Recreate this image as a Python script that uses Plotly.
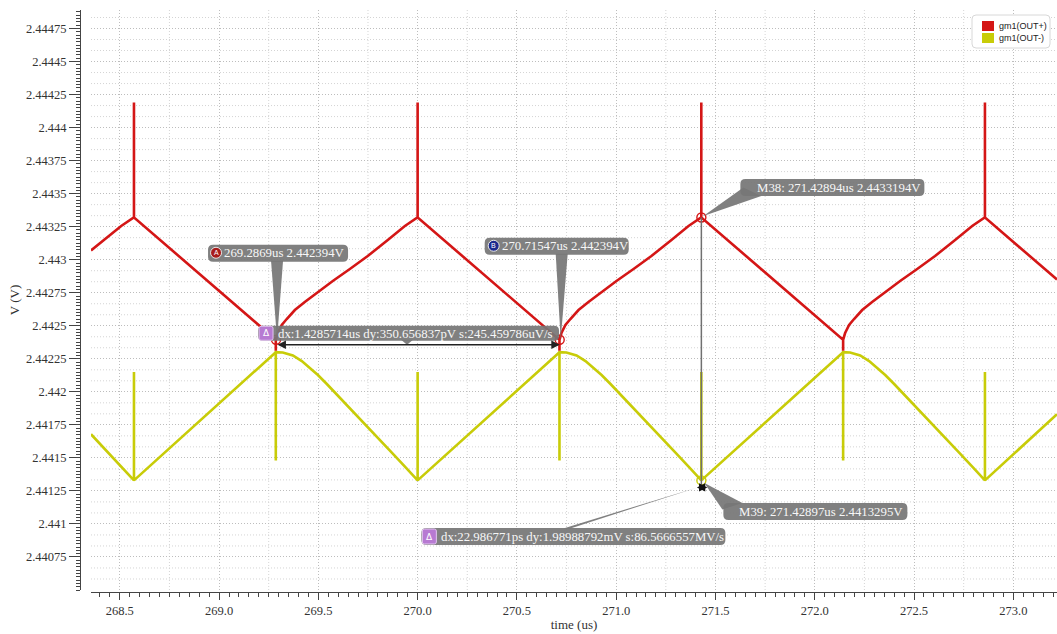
import plotly.graph_objects as go

# ---------------- waveform data (time in us, voltage in V) ----------------
out_p_time = [
    268.355, 268.4211, 268.5071,
    268.5714, 268.5714, 268.5714,
    269.2857, 269.2857, 269.2857,
    269.2957, 269.3157, 269.3407, 269.3817, 269.4317, 269.4977,
    269.5727, 269.6587, 269.7487, 269.8497, 269.9357,
    270.0000, 270.0000, 270.0000,
    270.7143, 270.7143, 270.7143,
    270.7243, 270.7443, 270.7693, 270.8103, 270.8603, 270.9263,
    271.0013, 271.0873, 271.1773, 271.2783, 271.3643,
    271.4286, 271.4286, 271.4286,
    272.1429, 272.1429, 272.1429,
    272.1529, 272.1729, 272.1979, 272.2389, 272.2889, 272.3549,
    272.4299, 272.5159, 272.6059, 272.7069, 272.7929,
    272.8571, 272.8571, 272.8571,
    273.22,
]
out_p_volt = [
    2.44307, 2.443149, 2.443255,
    2.44332, 2.44419, 2.44332,
    2.442394, 2.44231, 2.442394,
    2.442445, 2.442506, 2.442551, 2.442619, 2.442680, 2.442756,
    2.442839, 2.442930, 2.443028, 2.443149, 2.443255,
    2.44332, 2.44419, 2.44332,
    2.442394, 2.44231, 2.442394,
    2.442445, 2.442506, 2.442551, 2.442619, 2.442680, 2.442756,
    2.442839, 2.442930, 2.443028, 2.443149, 2.443255,
    2.44332, 2.44419, 2.44332,
    2.442394, 2.44231, 2.442394,
    2.442445, 2.442506, 2.442551, 2.442619, 2.442680, 2.442756,
    2.442839, 2.442930, 2.443028, 2.443149, 2.443255,
    2.44332, 2.44419, 2.44332,
    2.44285,
]

out_n_time = [
    268.355, 268.4461, 268.5121,
    268.5714, 268.5714, 268.5714,
    269.2857, 269.2857, 269.2857,
    269.3207, 269.3717, 269.4167, 269.4567, 269.4977, 269.5427,
    269.6227, 269.7087, 269.7897, 269.8747, 269.9407,
    270.0000, 270.0000, 270.0000,
    270.7143, 270.7143, 270.7143,
    270.7493, 270.8003, 270.8453, 270.8853, 270.9263, 270.9713,
    271.0513, 271.1373, 271.2183, 271.3033, 271.3693,
    271.4286, 271.4286, 271.4286,
    272.1429, 272.1429, 272.1429,
    272.1779, 272.2289, 272.2739, 272.3139, 272.3549, 272.3999,
    272.4799, 272.5659, 272.6469, 272.7319, 272.7979,
    272.8571, 272.8571, 272.8571,
    273.22,
]
out_n_volt = [
    2.441679, 2.441533, 2.441427,
    2.44133, 2.44215, 2.44133,
    2.44230, 2.44148, 2.44230,
    2.442298, 2.442275, 2.442233, 2.442184, 2.442127, 2.442059,
    2.441934, 2.441798, 2.441669, 2.441533, 2.441427,
    2.44133, 2.44215, 2.44133,
    2.44230, 2.44148, 2.44230,
    2.442298, 2.442275, 2.442233, 2.442184, 2.442127, 2.442059,
    2.441934, 2.441798, 2.441669, 2.441533, 2.441427,
    2.44133, 2.44215, 2.44133,
    2.44230, 2.44148, 2.44230,
    2.442298, 2.442275, 2.442233, 2.442184, 2.442127, 2.442059,
    2.441934, 2.441798, 2.441669, 2.441533, 2.441427,
    2.44133, 2.44215, 2.44133,
    2.44183,
]

series_names = ["gm1(OUT+)", "gm1(OUT-)"]

# ---------------- axis ticks ----------------
x_tick_vals = [268.5, 269.0, 269.5, 270.0, 270.5, 271.0, 271.5, 272.0, 272.5, 273.0]
x_tick_text = ["268.5", "269.0", "269.5", "270.0", "270.5", "271.0", "271.5", "272.0", "272.5", "273.0"]
y_tick_vals = [2.44075, 2.441, 2.44125, 2.4415, 2.44175, 2.442, 2.44225, 2.4425,
               2.44275, 2.443, 2.44325, 2.4435, 2.44375, 2.444, 2.44425, 2.4445, 2.44475]
y_tick_text = ["2.44075", "2.441", "2.44125", "2.4415", "2.44175", "2.442", "2.44225", "2.4425",
               "2.44275", "2.443", "2.44325", "2.4435", "2.44375", "2.444", "2.44425", "2.4445", "2.44475"]

# ---------------- cursors ----------------
cursor_a = (269.2869, 2.442394)
cursor_b = (270.71547, 2.442394)
marker_m38 = (271.42894, 2.4433194)
marker_m39 = (271.42897, 2.4413295)

label_a = "269.2869us 2.442394V"
label_b = "270.71547us 2.442394V"
label_ab = "dx:1.4285714us dy:350.656837pV s:245.459786uV/s"
label_m38 = "M38: 271.42894us 2.4433194V"
label_m39 = "M39: 271.42897us 2.4413295V"
label_m38_m39 = "dx:22.986771ps dy:1.98988792mV s:86.5666557MV/s"

RED = "#d41616"
YELLOW = "#c8cc08"
BOX_GRAY = "rgba(118,118,118,0.93)"
SERIF = "Liberation Serif"
LABEL_FONT = dict(family=SERIF, size=12.8, color="#f7f7f7")
GRID_DASH = "1px,2px"

X_RANGE = [268.355, 273.22]
Y_RANGE = [2.4405, 2.44489]

# plot area geometry (pixels) used to place callout graphics next to cursors
FIG_W, FIG_H = 1057, 634
M_L, M_R, M_T, M_B = 80, 0, 10, 42
PLOT_LEFT = 91
PLOT_TOP = 10
PLOT_W = FIG_W - M_R - PLOT_LEFT
PLOT_H = 580


def to_x(p):
    return X_RANGE[0] + (p - PLOT_LEFT) * (X_RANGE[1] - X_RANGE[0]) / PLOT_W


def to_y(p):
    return Y_RANGE[1] - (p - PLOT_TOP) * (Y_RANGE[1] - Y_RANGE[0]) / PLOT_H


def px_x(v):
    return PLOT_LEFT + (v - X_RANGE[0]) * PLOT_W / (X_RANGE[1] - X_RANGE[0])


def px_y(v):
    return PLOT_TOP + (Y_RANGE[1] - v) * PLOT_H / (Y_RANGE[1] - Y_RANGE[0])


def poly_path(points):
    pts = [f"{to_x(x)},{to_y(y)}" for x, y in points]
    return "M " + " L ".join(pts) + " Z"


def rounded_path(x0, y0, x1, y1, r):
    def p(x, y):
        return f"{to_x(x)},{to_y(y)}"
    return (f"M {p(x0 + r, y0)} L {p(x1 - r, y0)} Q {p(x1, y0)} {p(x1, y0 + r)} "
            f"L {p(x1, y1 - r)} Q {p(x1, y1)} {p(x1 - r, y1)} "
            f"L {p(x0 + r, y1)} Q {p(x0, y1)} {p(x0, y1 - r)} "
            f"L {p(x0, y0 + r)} Q {p(x0, y0)} {p(x0 + r, y0)} Z")


shapes = []
annotations = []


def add_box(cx, cy, x0, y0, x1, y1):
    shapes.append(dict(type="path", path=rounded_path(cx + x0, cy + y0, cx + x1, cy + y1, 5),
                       xref="x", yref="y", fillcolor=BOX_GRAY, line=dict(width=0), layer="above"))


def add_wedge(cx, cy, pts):
    shapes.append(dict(type="path", path=poly_path([(cx + a, cy + b) for a, b in pts]),
                       xref="x", yref="y", fillcolor=BOX_GRAY, line=dict(width=0), layer="above"))


def add_text(cx, cy, ox, oy, text):
    annotations.append(dict(x=to_x(cx + ox), y=to_y(cy + oy), xref="x", yref="y", text=text,
                            showarrow=False, xanchor="left", yanchor="middle", font=LABEL_FONT))


def add_round_badge(cx, cy, ox, oy, letter, fill):
    r = 5.5
    shapes.append(dict(type="circle", xref="x", yref="y",
                       x0=to_x(cx + ox - r), x1=to_x(cx + ox + r),
                       y0=to_y(cy + oy + r), y1=to_y(cy + oy - r),
                       fillcolor=fill, line=dict(color="#e8e8e8", width=1), layer="above"))
    annotations.append(dict(x=to_x(cx + ox), y=to_y(cy + oy), xref="x", yref="y", text=letter,
                            showarrow=False, xanchor="center", yanchor="middle",
                            font=dict(family="Liberation Sans", size=7, color="white")))


def add_delta_badge(cx, cy, x0, y0, x1, y1):
    shapes.append(dict(type="path", path=rounded_path(cx + x0, cy + y0, cx + x1, cy + y1, 2),
                       xref="x", yref="y", fillcolor="#b77ad2",
                       line=dict(color="#e3c6f0", width=1), layer="above"))
    annotations.append(dict(x=to_x(cx + (x0 + x1) / 2), y=to_y(cy + (y0 + y1) / 2), xref="x", yref="y",
                            text="Δ", showarrow=False, xanchor="center", yanchor="middle",
                            font=dict(family="DejaVu Sans", size=9, color="white")))


# minor dotted grid (between the major grid lines)
x_minor_grid = [268.75 + 0.5 * k for k in range(9)]
for gx in x_minor_grid:
    shapes.append(dict(type="line", xref="x", yref="paper", x0=gx, x1=gx, y0=0.0034, y1=1,
                       line=dict(color="#d4d4d4", width=1, dash=GRID_DASH), layer="below"))
y_step = 0.00025 / 3
k = 0
while True:
    gy = 2.4405 + k * y_step
    if gy > Y_RANGE[1]:
        break
    if k % 3 != 0:
        shapes.append(dict(type="line", xref="paper", yref="y", x0=11 / 977, x1=1, y0=gy, y1=gy,
                           line=dict(color="#d4d4d4", width=1, dash=GRID_DASH), layer="below"))
    k += 1

fig = go.Figure()

fig.add_trace(go.Scatter(x=out_n_time, y=out_n_volt, mode="lines", name=series_names[1],
                         line=dict(color=YELLOW, width=2.6), hoverinfo="skip"))
fig.add_trace(go.Scatter(x=out_p_time, y=out_p_volt, mode="lines", name=series_names[0],
                         line=dict(color=RED, width=2.6), hoverinfo="skip"))

# cursor rings
fig.add_trace(go.Scatter(x=[cursor_a[0], cursor_b[0], marker_m38[0]],
                         y=[cursor_a[1], cursor_b[1], marker_m38[1]], mode="markers",
                         marker=dict(symbol="circle-open", size=9, color=RED, line=dict(width=1.4)),
                         hoverinfo="skip"))
fig.add_trace(go.Scatter(x=[marker_m39[0]], y=[marker_m39[1]], mode="markers",
                         marker=dict(symbol="circle-open", size=9, color=YELLOW, line=dict(width=1.4)),
                         hoverinfo="skip"))

# ---- cursor A ----
ax_, ay_ = px_x(cursor_a[0]), px_y(cursor_a[1])
add_wedge(ax_, ay_, [(-5, -79), (7, -79), (1, 0)])
add_box(ax_, ay_, -68, -95, 72, -78)
add_round_badge(ax_, ay_, -60, -87, "A", "#a81c1c")
add_text(ax_, ay_, -54, -86.5, label_a)

# ---- cursor B ----
bx_, by_ = px_x(cursor_b[0]), px_y(cursor_b[1])
add_wedge(bx_, by_, [(-4, -86), (8, -86), (1, 0)])
add_box(bx_, by_, -75, -102, 69, -85)
add_round_badge(bx_, by_, -66, -94, "B", "#1d2a8e")
add_text(bx_, by_, -60, -93.5, label_b)

# ---- delta A-B ----
arrow_y = to_y(ay_ + 5)
annotations.append(dict(x=cursor_b[0], y=arrow_y, ax=cursor_a[0], ay=arrow_y, xref="x", yref="y",
                        axref="x", ayref="y", text="", showarrow=True, arrowside="end+start",
                        arrowhead=2, arrowsize=1.2, arrowwidth=1.4, arrowcolor="#222222",
                        standoff=0, startstandoff=0))
add_wedge(ax_, ay_, [(125, 0), (137, 0), (131, 5)])
add_box(ax_, ay_, -18, -14, 283, 1)
add_delta_badge(ax_, ay_, -17, -13.5, -3, 0.5)
add_text(ax_, ay_, 0, -6, label_ab)

# ---- M38 / M39 ----
mx_, my38 = px_x(marker_m38[0]), px_y(marker_m38[1])
my39 = px_y(marker_m39[1])
shapes.append(dict(type="line", xref="x", yref="y", x0=marker_m38[0], x1=marker_m38[0],
                   y0=marker_m38[1], y1=to_y(my39 + 7), line=dict(color="#707070", width=1.5),
                   layer="above"))
annotations.append(dict(x=to_x(mx_ + 6), y=to_y(my39 + 7), ax=to_x(mx_ - 6), ay=to_y(my39 + 7),
                        xref="x", yref="y", axref="x", ayref="y", text="", showarrow=True,
                        arrowside="end+start", arrowhead=2, arrowsize=1.2, arrowwidth=1.4,
                        arrowcolor="#111111", standoff=0, startstandoff=0))

add_wedge(mx_, my38, [(42, -30), (60, -21.5), (2, -1.5)])
add_box(mx_, my38, 39, -38.5, 223, -21.5)
add_text(mx_, my38, 54, -29.5, label_m38)

add_wedge(mx_, my39, [(3, 2.6), (21, 29), (41, 22.6)])
add_box(mx_, my39, 22, 22.6, 206, 39.6)
add_text(mx_, my39, 36, 31.5, label_m39)

# ---- delta M38-M39 ----
add_wedge(mx_, my39, [(-138, 48), (-131, 48), (-4, 7)])
add_box(mx_, my39, -280, 47.6, 24, 64.6)
add_delta_badge(mx_, my39, -279, 48.6, -265, 63.6)
add_text(mx_, my39, -262, 56.5, label_m38_m39)

# ---- legend ----
shapes.append(dict(type="path", path=rounded_path(972, 15, 1050, 48, 4), xref="x", yref="y",
                   fillcolor="white", line=dict(color="#d8d8d8", width=1), layer="above"))
legend_colors = [RED, YELLOW]
for i, name in enumerate(series_names):
    top = 21 + 12 * i
    shapes.append(dict(type="rect", xref="x", yref="y", x0=to_x(982), x1=to_x(994),
                       y0=to_y(top + 10), y1=to_y(top), fillcolor=legend_colors[i],
                       line=dict(width=0), layer="above"))
    annotations.append(dict(x=to_x(997), y=to_y(top + 5), xref="x", yref="y", text=name,
                            showarrow=False, xanchor="left", yanchor="middle",
                            font=dict(family="Liberation Sans", size=9, color="#222")))

axis_font = dict(family=SERIF, size=13, color="#333333")
tick_font = dict(family=SERIF, size=12.5, color="#333333")

fig.update_layout(
    width=FIG_W, height=FIG_H,
    margin=dict(l=M_L, r=M_R, t=M_T, b=M_B),
    paper_bgcolor="white", plot_bgcolor="white",
    showlegend=False,
    font=axis_font,
    shapes=shapes,
    annotations=annotations,
    xaxis=dict(
        domain=[11 / 977, 1], range=X_RANGE, anchor="free", position=0,
        tickmode="array", tickvals=x_tick_vals, ticktext=x_tick_text, tickfont=tick_font,
        ticks="outside", ticklen=7, tickcolor="#444", tickwidth=1,
        showline=True, linecolor="#444", linewidth=1,
        showgrid=True, gridcolor="#bdbdbd", griddash=GRID_DASH, gridwidth=1,
        zeroline=False,
        minor=dict(tickmode="linear", tick0=268.5, dtick=0.05, ticks="outside", ticklen=4,
                   tickcolor="#444", showgrid=False),
        title=dict(text="time (us)", standoff=2, font=axis_font),
    ),
    yaxis=dict(
        domain=[2 / 582, 1], range=Y_RANGE, anchor="free", position=0,
        tickmode="array", tickvals=y_tick_vals, ticktext=y_tick_text, tickfont=tick_font,
        ticks="outside", ticklen=11, tickcolor="#444", tickwidth=1,
        showline=True, linecolor="#444", linewidth=1,
        showgrid=True, gridcolor="#bdbdbd", griddash=GRID_DASH, gridwidth=1,
        zeroline=False,
        minor=dict(tickmode="linear", tick0=2.44075, dtick=0.000025, ticks="outside", ticklen=4,
                   tickcolor="#444", showgrid=False),
        title=dict(text="V (V)", standoff=2, font=axis_font),
    ),
)

fig.write_html("out.html")
